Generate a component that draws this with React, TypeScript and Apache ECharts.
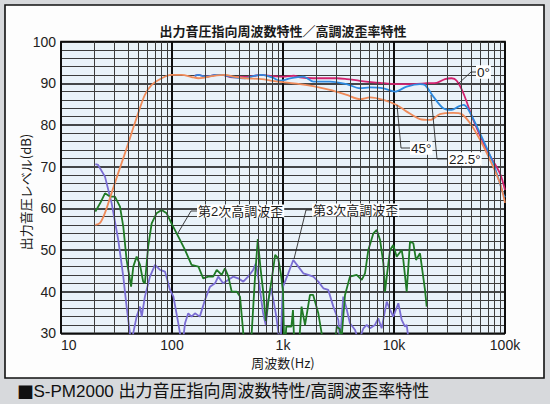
import React, { useEffect, useRef } from "react";
import * as echarts from "echarts";

// ---- tick labels ----
const xTickLabels: Record<string, string> = {
  "10": "10",
  "100": "100",
  "1000": "1k",
  "10000": "10k",
  "100000": "100k",
};

// ---- frequency response (Hz, dB) ----
const deg0: [number, number][] = [
  [160, 91.8], [173, 92], [200, 91.6], [250, 92], [280, 92], [350, 91.4], [455, 91.5],
  [550, 91.8], [643, 92], [800, 91.7], [940, 91.6], [1042, 91.6], [1250, 91.8], [1422, 91.4],
  [1875, 91.2], [3050, 91.2], [3750, 91], [4940, 90.6], [7490, 90.1], [10570, 89.8],
  [14940, 89.8], [19700, 90], [24200, 90.1], [28800, 91], [33100, 91.2], [36700, 90.6],
  [42200, 87.6], [51800, 81.2], [68500, 74], [90000, 68.4], [100000, 64.4],
];

const deg22: [number, number][] = [
  [160, 91.8], [173, 92], [200, 91.6], [250, 92], [280, 92], [350, 91.5], [455, 91.2],
  [550, 91.8], [643, 92], [800, 91.4], [940, 90.6], [1042, 90.8], [1156, 91.2], [1524, 91.6],
  [1875, 90.4], [2650, 90.4], [3750, 89.8], [4940, 88.8], [6080, 89], [8020, 88.8],
  [10210, 88], [13010, 89.2], [17150, 89.8], [19000, 89.6], [22600, 86.8], [27800, 84],
  [33100, 83.6], [38000, 84.4], [42200, 84.8], [47000, 83.6], [59600, 78], [78500, 70.8],
  [96000, 63.6], [100000, 62.6],
];

const deg45: [number, number][] = [
  [20.4, 56], [22.5, 56.5], [24.9, 58.9], [28.6, 63.7], [32.8, 68.5], [37.8, 73.3],
  [43.3, 78.1], [49.7, 82.9], [57, 87.2], [65.6, 89.6], [80.7, 91.2], [99, 92], [122, 92],
  [150, 91.5], [173, 91.2], [200, 91.4], [228, 91.7], [300, 92], [360, 91.6], [454, 91.2],
  [643, 91], [800, 90.6], [1042, 90.2], [1422, 89.8], [1865, 89.3], [2650, 88.4],
  [3750, 87.2], [4940, 86.2], [6080, 86.6], [8020, 86], [10570, 84.8], [13010, 83.2],
  [17150, 81.4], [21100, 81.2], [25970, 82.6], [34200, 82.9], [40700, 82.6], [48500, 80.4],
  [59600, 76.4], [73300, 71.6], [90200, 66], [100000, 61.3],
];

// ---- harmonic distortion (Hz, dB) ----
const harm2: [number, number][] = [
  [20.4, 59.2], [22.5, 61.2], [24.9, 63.6], [27.6, 62.8], [30.6, 62.8], [34, 60.4],
  [36.4, 55.6], [39, 47.6], [42.8, 41.2], [44.8, 46], [48, 48.4], [51.5, 46.4], [55, 42.4],
  [57, 42], [61, 50.8], [65.6, 56.4], [72.5, 58.8], [80.7, 59.6], [89.5, 58.8], [99, 56.4],
  [114, 53.2], [131, 50], [150, 46.4], [173, 46], [191, 43.2], [212, 43.6], [235, 43.6],
  [253, 45.2], [280, 44], [300, 45.6], [322, 43.6], [345, 40], [383, 40], [410, 38.8],
  [439, 30], [450, 26], [510, 26], [522, 30], [560, 43.6], [593, 52.6], [625, 46],
  [663, 40], [700, 33], [740, 38], [790, 42.8], [850, 48.8], [905, 48], [960, 44],
  [1000, 40], [1020, 30], [1040, 26], [1070, 31.6], [1190, 31.6], [1230, 35.6], [1260, 28],
  [1400, 28], [1470, 36.4], [1580, 32], [1750, 39.2], [1870, 39.2], [2080, 34.8],
  [2230, 30], [2300, 26], [2900, 26], [3050, 31.6], [3250, 31], [3350, 28], [3620, 39.2],
  [4010, 43.6], [4610, 44], [5120, 42.8], [5480, 44.4], [5870, 50], [6520, 54],
  [6990, 54.8], [7490, 52.4], [8020, 46.8], [8300, 40], [8600, 43.6], [9220, 50],
  [9850, 51.2], [10570, 48.4], [11730, 50], [12130, 47.6], [13010, 40], [13940, 52],
  [14940, 51.6], [15790, 47.6], [17150, 49.2], [19020, 40.4], [19700, 36.4],
];

const harm3: [number, number][] = [
  [20.4, 70.6], [21.6, 70.4], [24.9, 67.6], [28.6, 61.2], [32.8, 52.4], [36.4, 43.6],
  [39, 36.4], [41.8, 30], [43, 27], [44.8, 30.1], [48, 34], [51.5, 36.4], [53.4, 34],
  [57, 38.8], [63.3, 43.6], [70.3, 46.4], [78, 45.2], [86.5, 44.8], [96, 40.4], [103, 38.8],
  [114, 32.4], [118, 30], [124, 27], [131, 32.4], [140, 34.8], [150, 34], [161, 34.8],
  [178, 34], [198, 38], [220, 41.2], [244, 42], [261, 43.6], [289, 42], [320, 42.8],
  [355, 43.6], [394, 43.2], [439, 42.4], [485, 43.6], [538, 45.2], [570, 46.8], [610, 42],
  [660, 35], [700, 32], [740, 38], [780, 40.8], [813, 38.5], [871, 34], [920, 29],
  [950, 27], [985, 38], [1000, 41.2], [1116, 44.4], [1238, 47.6], [1374, 46], [1524, 44.4],
  [1690, 44], [1875, 43.6], [2080, 42.4], [2310, 40.8], [2560, 40.4], [2840, 36.4],
  [3150, 33.2], [3260, 28], [3490, 38.8], [3700, 36.4], [4010, 32.4], [4460, 30.8],
  [4800, 28], [5300, 31.2], [5680, 32], [6080, 31.2], [6740, 32], [7210, 33.6],
  [7740, 31.2], [8600, 37.6], [9220, 35.6], [9850, 34], [10940, 37.2], [11730, 33.2],
  [12560, 31.6], [13010, 32], [13450, 29],
];

const TITLE = "出力音圧指向周波数特性／高調波歪率特性";
const Y_NAME = "出力音圧レベル(dB)";
const X_NAME = "周波数(Hz)";
const CAPTION_MARK = "■";
const CAPTION = "S-PM2000 出力音圧指向周波数特性/高調波歪率特性";

const JP = "'Noto Sans CJK JP', sans-serif";
const LAT = "'Liberation Sans', Arial, 'Noto Sans CJK JP', sans-serif";

export default function App() {
  const ref = useRef<HTMLDivElement>(null);

  useEffect(() => {
    if (!ref.current) return;
    const chart = echarts.init(ref.current, null, { renderer: "svg" });

    const minorFreqs: number[] = [];
    [10, 100, 1000, 10000].forEach((d) => {
      for (let m = 2; m <= 9; m++) minorFreqs.push(d * m);
    });

    const annText = (text: string, x: number, y: number, size = 13.5) => ({
      type: "text",
      x,
      y,
      z: 50,
      style: {
        text,
        fontSize: size,
        fontFamily: LAT,
        fill: "#1a1a1a",
        align: "left",
        verticalAlign: "middle",
        backgroundColor: "#ffffff",
        padding: [0, 1, 0, 1],
      },
    });
    const leader = (pts: number[][]) => ({
      type: "polyline",
      z: 49,
      shape: { points: pts },
      style: { stroke: "#2a2a2a", lineWidth: 0.9, fill: null },
    });

    const lineSeries = (name: string, data: [number, number][], color: string, smooth: number | boolean) => ({
      name,
      type: "line",
      data,
      showSymbol: false,
      smooth,
      clip: true,
      z: 3,
      lineStyle: { color, width: 1.8 },
      itemStyle: { color },
    });

    chart.setOption({
      animation: false,
      backgroundColor: "#d7d9dc",
      grid: {
        left: 61,
        top: 41.6,
        width: 444,
        height: 291.7,
        show: true,
        backgroundColor: "#e9f2f9",
        borderColor: "#111",
        borderWidth: 1.6,
      },
      xAxis: {
        type: "log",
        logBase: 10,
        min: 10,
        max: 100000,
        splitNumber: 4,
        axisLine: { show: false },
        axisTick: { show: false },
        splitLine: { show: true, lineStyle: { color: "#0d0d0d", width: 2 } },
        axisLabel: {
          fontSize: 14,
          fontFamily: LAT,
          color: "#222",
          margin: 5,
          alignMinLabel: "left",
          formatter: (v: number) => xTickLabels[String(Math.round(v))] ?? "",
        },
      },
      yAxis: {
        type: "value",
        min: 30,
        max: 100,
        interval: 10,
        axisLine: { show: false },
        axisTick: { show: false },
        splitLine: { show: true, lineStyle: { color: "#0d0d0d", width: 1.5 } },
        minorTick: { show: false, splitNumber: 5 },
        minorSplitLine: { show: true, lineStyle: { color: "#3c3c3c", width: 1 } },
        axisLabel: { fontSize: 14, fontFamily: LAT, color: "#222", margin: 5 },
      },
      series: [
        {
          name: "grid",
          type: "line",
          data: [],
          z: 1,
          silent: true,
          markLine: {
            silent: true,
            symbol: ["none", "none"],
            animation: false,
            label: { show: false },
            emphasis: { disabled: true },
            lineStyle: { color: "#3c3c3c", width: 1, type: "solid" },
            data: minorFreqs.map((v) => ({ xAxis: v })),
          },
        },
        lineSeries("第3次高調波歪", harm3, "#7a6dd3", false),
        lineSeries("第2次高調波歪", harm2, "#1f7a25", false),
        lineSeries("0°", deg0, "#d2236f", 0.3),
        lineSeries("22.5°", deg22, "#2e8ae0", 0.3),
        lineSeries("45°", deg45, "#ef8b5a", 0.3),
      ],
      graphic: [
        {
          type: "rect",
          z: -100,
          shape: { x: 5, y: 5, width: 539, height: 373 },
          style: { fill: "#fdfdfd", stroke: "#111", lineWidth: 1.6 },
        },
        {
          type: "text",
          x: 283,
          y: 30,
          style: {
            text: TITLE,
            fontSize: 13,
            fontWeight: "bold",
            fontFamily: JP,
            fill: "#1a1a1a",
            align: "center",
            verticalAlign: "middle",
          },
        },
        {
          type: "text",
          x: 25,
          y: 192,
          rotation: Math.PI / 2,
          style: {
            text: Y_NAME,
            fontSize: 13,
            fontFamily: JP,
            fill: "#1a1a1a",
            align: "center",
            verticalAlign: "middle",
          },
        },
        {
          type: "text",
          x: 283,
          y: 362,
          style: {
            text: X_NAME,
            fontSize: 13,
            fontFamily: JP,
            fill: "#1a1a1a",
            align: "center",
            verticalAlign: "middle",
          },
        },
        {
          type: "text",
          x: 17,
          y: 391,
          style: {
            text: CAPTION_MARK,
            fontSize: 17,
            fontFamily: JP,
            fill: "#111",
            align: "left",
            verticalAlign: "middle",
          },
        },
        {
          type: "text",
          x: 33.5,
          y: 391,
          style: {
            text: CAPTION,
            fontSize: 17,
            fontFamily: LAT,
            fill: "#111",
            align: "left",
            verticalAlign: "middle",
          },
        },
        leader([[476, 72], [471, 72], [458, 84]]),
        annText("0°", 476, 72),
        leader([[410, 148], [401, 148], [397, 105]]),
        annText("45°", 410, 148),
        leader([[448, 159], [437, 159], [431, 95]]),
        annText("22.5°", 448, 159),
        leader([[197, 211], [191, 211], [178, 233]]),
        annText("第2次高調波歪", 197, 211, 13),
        leader([[312, 210], [306, 210], [294, 259]]),
        annText("第3次高調波歪", 312, 210, 13),
      ],
    });

    return () => chart.dispose();
  }, []);

  return (
    <div
      ref={ref}
      style={{ position: "absolute", left: 0, top: 0, width: 550, height: 404 }}
    />
  );
}
